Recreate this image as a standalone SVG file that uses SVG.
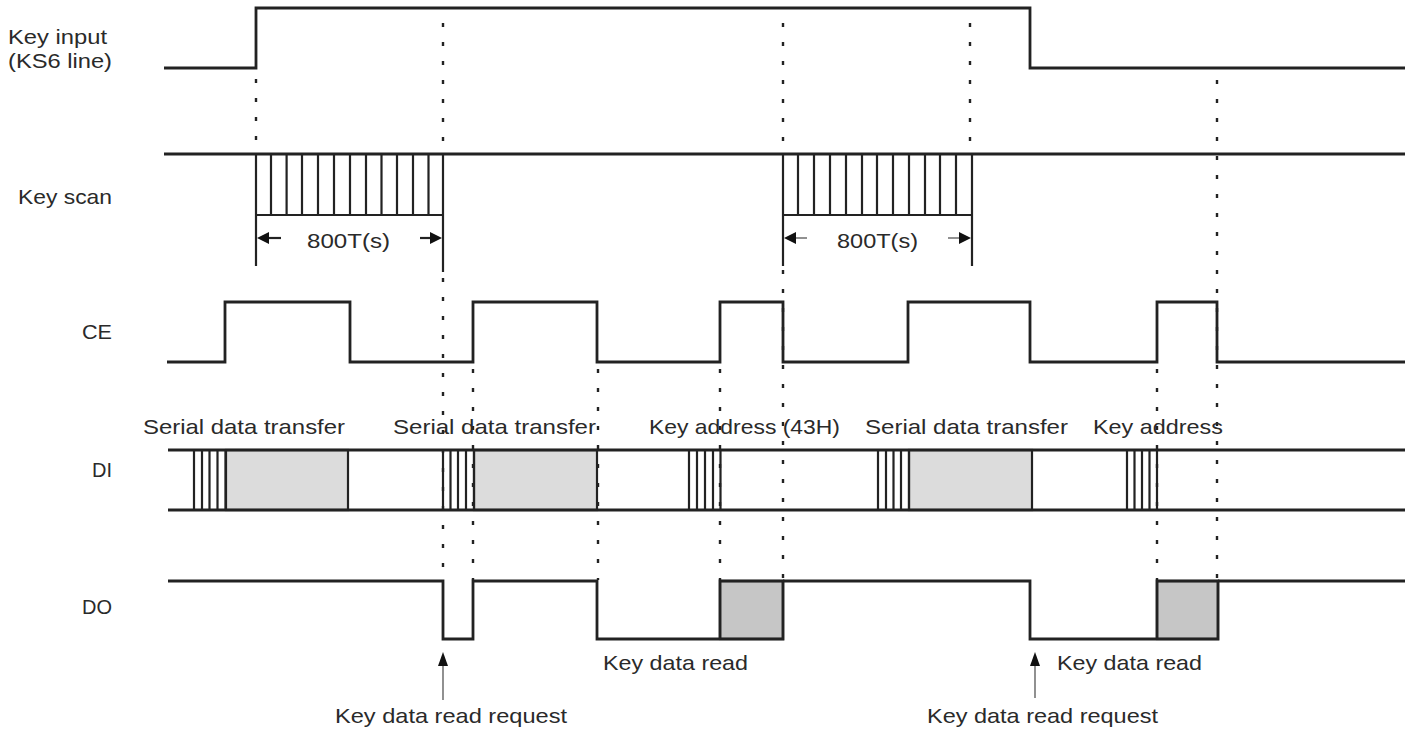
<svg xmlns="http://www.w3.org/2000/svg" width="1416" height="729" viewBox="0 0 1416 729">
<defs>
<style>
.sig{fill:none;stroke:#222;stroke-width:2.8;stroke-linejoin:miter}
.hat{fill:none;stroke:#222;stroke-width:2.2}
.dot{fill:none;stroke:#222;stroke-width:2.4;stroke-dasharray:4 15}
.ext{fill:none;stroke:#222;stroke-width:2.2}
.lbl{font-family:"Liberation Sans",Arial,Helvetica,sans-serif;font-size:21px;fill:#2a2a2a}
.sh1{fill:#dcdcdc;stroke:#222;stroke-width:2.2}
.sh2{fill:#c6c6c6;stroke:#222;stroke-width:2.2}
.thin{fill:none;stroke:#555;stroke-width:1.3}
.head{fill:#111}
</style>
</defs>
<rect width="1416" height="729" fill="#fff"/>

<g id="labels">
<text class="lbl" x="8" y="44" textLength="99" lengthAdjust="spacingAndGlyphs">Key input</text>
<text class="lbl" x="8" y="68" textLength="104" lengthAdjust="spacingAndGlyphs">(KS6 line)</text>
<text class="lbl" x="18" y="204" textLength="94" lengthAdjust="spacingAndGlyphs">Key scan</text>
<text class="lbl" x="82" y="339" textLength="30" lengthAdjust="spacingAndGlyphs">CE</text>
<text class="lbl" x="92" y="477" textLength="20" lengthAdjust="spacingAndGlyphs">DI</text>
<text class="lbl" x="82" y="614" textLength="30" lengthAdjust="spacingAndGlyphs">DO</text>
</g>

<g id="connectors">
<line class="dot" x1="256" y1="79" x2="256" y2="154"/>
<line class="dot" x1="443" y1="23" x2="443" y2="154"/>
<line class="dot" x1="443" y1="278" x2="443" y2="580"/>
<line class="dot" x1="783" y1="23" x2="783" y2="154"/>
<line class="dot" x1="783" y1="270" x2="783" y2="580"/>
<line class="dot" x1="970" y1="23" x2="970" y2="154"/>
<line class="dot" x1="473" y1="369" x2="473" y2="580"/>
<line class="dot" x1="598" y1="369" x2="598" y2="580"/>
<line class="dot" x1="720" y1="369" x2="720" y2="580"/>
<line class="dot" x1="1157" y1="369" x2="1157" y2="580"/>
<line class="dot" x1="1217" y1="80" x2="1217" y2="580"/>
</g>

<g id="key-input">
<path class="sig" d="M164,68 H256 V8 H1030 V68 H1405"/>
</g>

<g id="key-scan">
<line class="sig" x1="164" y1="154" x2="1405" y2="154"/>
<path class="hat" d="M256,215 H443 M271,154 V215 M286.6,154 V215 M302,154 V215 M318,154 V215 M334,154 V215 M350,154 V215 M366,154 V215 M381.5,154 V215 M397,154 V215 M413,154 V215 M428.5,154 V215"/>
<path class="ext" d="M256,154 V266 M443,154 V272"/>
<path class="hat" d="M783,215 H972 M798,154 V215 M814,154 V215 M830,154 V215 M846,154 V215 M862,154 V215 M877,154 V215 M893,154 V215 M909,154 V215 M925,154 V215 M940,154 V215 M956,154 V215"/>
<path class="ext" d="M783,154 V266 M972,154 V266"/>
<line class="ext" x1="268" y1="238" x2="281" y2="238"/>
<polygon class="head" points="257,238 269,232 269,244"/>
<line class="ext" x1="420" y1="238" x2="432" y2="238"/>
<polygon class="head" points="442,238 430,232 430,244"/>
<line class="thin" x1="794" y1="238" x2="807" y2="238"/>
<polygon class="head" points="784,238 796,232 796,244"/>
<line class="thin" x1="948" y1="238" x2="961" y2="238"/>
<polygon class="head" points="971,238 959,232 959,244"/>
<text class="lbl" x="307" y="248" textLength="83" lengthAdjust="spacingAndGlyphs">800T(s)</text>
<text class="lbl" x="837" y="248" textLength="81" lengthAdjust="spacingAndGlyphs">800T(s)</text>
</g>

<g id="ce">
<path class="sig" d="M167,362 H225 V302 H350 V362 H473 V302 H597 V362 H720 V302 H783 V362 H908 V302 H1030 V362 H1157 V302 H1217 V362 H1405"/>
</g>

<g id="di">
<rect class="sh1" x="226" y="450" width="122" height="60"/>
<rect class="sh1" x="474" y="450" width="123" height="60"/>
<rect class="sh1" x="909" y="450" width="123" height="60"/>
<line class="sig" x1="168" y1="450" x2="1405" y2="450"/>
<line class="sig" x1="168" y1="510" x2="1405" y2="510"/>
<path class="hat" d="M194,450 V510 M202,450 V510 M209.5,450 V510 M217.5,450 V510 M225.5,450 V510"/>
<path class="hat" d="M443,450 V510 M450.5,450 V510 M458,450 V510 M466,450 V510 M474,450 V510"/>
<path class="hat" d="M689,450 V510 M697,450 V510 M705,450 V510 M713,450 V510 M720.5,450 V510"/>
<path class="hat" d="M878,450 V510 M886,450 V510 M893.5,450 V510 M901,450 V510 M909,450 V510"/>
<path class="hat" d="M1127,450 V510 M1134.5,450 V510 M1142,450 V510 M1149.5,450 V510 M1157,450 V510"/>
<text class="lbl" x="143" y="434" textLength="202" lengthAdjust="spacingAndGlyphs">Serial data transfer</text>
<text class="lbl" x="393" y="434" textLength="203" lengthAdjust="spacingAndGlyphs">Serial data transfer</text>
<text class="lbl" x="649" y="434" textLength="191" lengthAdjust="spacingAndGlyphs">Key address (43H)</text>
<text class="lbl" x="865" y="434" textLength="203" lengthAdjust="spacingAndGlyphs">Serial data transfer</text>
<text class="lbl" x="1093" y="434" textLength="130" lengthAdjust="spacingAndGlyphs">Key address</text>
</g>

<g id="do">
<rect class="sh2" x="720" y="581" width="63" height="58"/>
<rect class="sh2" x="1157" y="581" width="61" height="58"/>
<path class="sig" d="M168,581 H443 V639 H473 V581 H597 V639 H720 M783,581 H1030 V639 H1157 M1218,581 H1405"/>
<path class="sig" d="M720,639 V581 H783 V639 H720 M1157,639 V581 H1218 V639 H1157"/>
<text class="lbl" x="603" y="670" textLength="145" lengthAdjust="spacingAndGlyphs">Key data read</text>
<text class="lbl" x="1057" y="670" textLength="145" lengthAdjust="spacingAndGlyphs">Key data read</text>
</g>

<g id="read-request">
<line class="thin" x1="443" y1="700" x2="443" y2="664"/>
<polygon class="head" points="443,652 448,666 438,666"/>
<line class="thin" x1="1035" y1="698" x2="1035" y2="664"/>
<polygon class="head" points="1035,652 1040,666 1030,666"/>
<text class="lbl" x="335" y="723" textLength="232" lengthAdjust="spacingAndGlyphs">Key data read request</text>
<text class="lbl" x="927" y="723" textLength="231" lengthAdjust="spacingAndGlyphs">Key data read request</text>
</g>
</svg>
